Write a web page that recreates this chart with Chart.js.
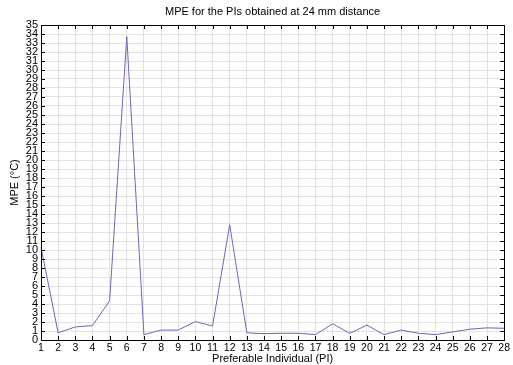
<!DOCTYPE html>
<html>
<head>
<meta charset="utf-8">
<script src="https://cdn.jsdelivr.net/npm/chart.js@4.4.1/dist/chart.umd.min.js"></script>
<style>
  html, body { margin: 0; padding: 0; background: #fff; }
  #wrap { width: 513px; height: 365px; }
</style>
</head>
<body>
<div id="wrap"><canvas id="mpeChart"></canvas></div>
<script>
// Preferable individuals (x axis categories)
const piLabels = ['1', '2', '3', '4', '5', '6', '7', '8', '9', '10', '11', '12', '13', '14',
                  '15', '16', '17', '18', '19', '20', '21', '22', '23', '24', '25', '26', '27', '28'];

// MPE values (°C)
const mpeValues = [10.3, 0.8, 1.45, 1.6, 4.35, 33.7, 0.6, 1.1, 1.1, 2.05, 1.55, 12.8, 0.8, 0.7,
                   0.75, 0.75, 0.6, 1.8, 0.75, 1.65, 0.6, 1.1, 0.75, 0.6, 0.9, 1.2, 1.35, 1.3];

const yMin = 0;
const yMax = 35;

const FONT = "'Liberation Sans', Arial, Helvetica, sans-serif";

// Draw the plot box and the inward ticks on all four sides (matlab style)
const boxPlugin = {
    id: 'boxPlugin',
    afterDraw(chart) {
        const ctx = chart.ctx;
        const area = chart.chartArea;
        const xs = chart.scales.x;
        const ys = chart.scales.y;
        const len = 4;
        ctx.save();
        ctx.strokeStyle = '#000';
        ctx.lineWidth = 1;
        ctx.beginPath();
        xs.ticks.forEach(function(t, i) {
            const px = Math.round(xs.getPixelForTick(i)) + 0.5;
            ctx.moveTo(px, area.bottom);
            ctx.lineTo(px, area.bottom - len);
            ctx.moveTo(px, area.top);
            ctx.lineTo(px, area.top + len);
        });
        ys.ticks.forEach(function(t, i) {
            const py = Math.round(ys.getPixelForTick(i)) + 0.5;
            ctx.moveTo(area.left, py);
            ctx.lineTo(area.left + len, py);
            ctx.moveTo(area.right, py);
            ctx.lineTo(area.right - len, py);
        });
        ctx.stroke();
        ctx.strokeRect(Math.round(area.left) + 0.5, Math.round(area.top) + 0.5,
                       Math.round(area.right - area.left), Math.round(area.bottom - area.top));
        ctx.restore();
    }
};

new Chart(document.getElementById('mpeChart'), {
    type: 'line',
    data: {
        labels: piLabels,
        datasets: [{
            data: mpeValues,
            borderColor: '#6a6ab0',
            borderWidth: 1,
            pointRadius: 0,
            tension: 0,
            fill: false
        }]
    },
    options: {
        responsive: true,
        maintainAspectRatio: false,
        animation: false,
        layout: { padding: { left: 0, right: 5, top: 0, bottom: 0 } },
        plugins: {
            legend: { display: false },
            tooltip: { enabled: false },
            title: {
                display: true,
                text: 'MPE for the PIs obtained at 24 mm distance',
                color: '#000',
                fullSize: false,
                font: { family: FONT, size: 11, weight: 'normal', lineHeight: 1.2 },
                padding: { top: 5, bottom: 6.8 }
            }
        },
        scales: {
            x: {
                type: 'category',
                offset: false,
                grid: { color: '#e2e2e2', drawTicks: false },
                border: { display: false },
                ticks: {
                    color: '#000',
                    autoSkip: false,
                    maxRotation: 0,
                    padding: 3,
                    font: { family: FONT, size: 10.5, lineHeight: 1 }
                },
                title: {
                    display: true,
                    text: 'Preferable Individual (PI)',
                    color: '#000',
                    font: { family: FONT, size: 11, lineHeight: 1.1 },
                    padding: { top: 0, bottom: 0 }
                },
                afterFit: function(scale) { scale.height = 25; }
            },
            y: {
                min: yMin,
                max: yMax,
                grid: { color: '#e2e2e2', drawTicks: false },
                border: { display: false },
                ticks: {
                    stepSize: 1,
                    color: '#000',
                    autoSkip: false,
                    padding: 3,
                    font: { family: FONT, size: 11, lineHeight: 1 }
                },
                title: {
                    display: true,
                    text: 'MPE (°C)',
                    color: '#000',
                    font: { family: FONT, size: 11 },
                    padding: { top: 8.4, bottom: 0 }
                },
                afterFit: function(scale) { scale.width = 41; }
            }
        }
    },
    plugins: [boxPlugin]
});
</script>
</body>
</html>
